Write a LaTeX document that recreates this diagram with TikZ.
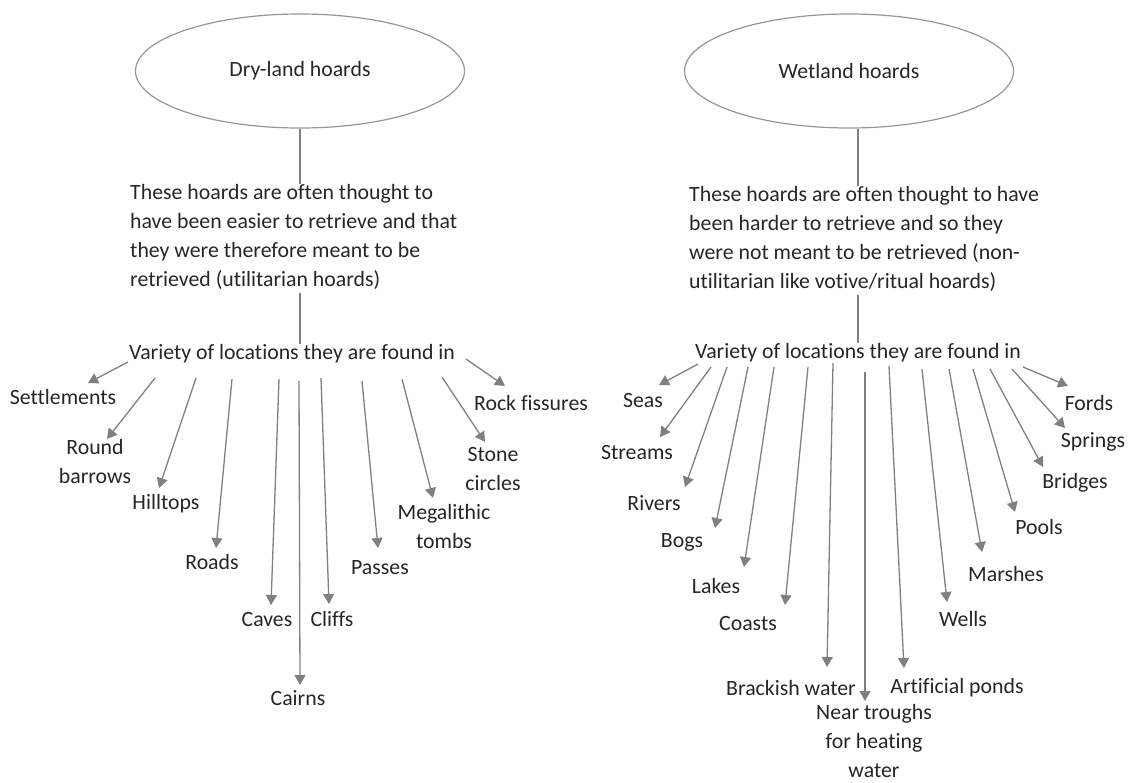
\documentclass[tikz,border=0pt]{standalone}
\usepackage{fontspec}
\setmainfont{Carlito}[Ligatures=NoCommon]
\usepackage{tikz}
\usetikzlibrary{positioning,shapes,arrows.meta}
\definecolor{linegray}{RGB}{128,128,128}
\definecolor{rimgray}{RGB}{150,150,150}
\definecolor{txt}{RGB}{38,38,38}
\tikzstyle{hoard}=[draw=rimgray, ellipse, line width=1.2pt, minimum width=329pt, minimum height=114pt, text=txt]
\tikzstyle{note}=[align=left, inner sep=0pt, text=txt]
\tikzstyle{loc}=[align=center, inner sep=1pt, text=txt]
\tikzstyle{stem}=[draw=linegray, line width=2.6pt]
\tikzstyle{leaf}=[draw=linegray, line width=1.3pt, -{Triangle[length=10pt,width=11pt]}]

\begin{document}
\begin{tikzpicture}[x=1pt,y=-1pt,font=\fontsize{21.8}{29}\selectfont]
\useasboundingbox (0,0) rectangle (1131,782);

% dry-land hoards
\node[hoard] (dry) at (300,71) {Dry-land hoards};
\node[note, anchor=west] (dryinfo) at (130,237) {These hoards are often thought to\\have been easier to retrieve and that\\they were therefore meant to be\\retrieved (utilitarian hoards)};
\node[note] (dvar) at (292,354) {Variety of locations they are found in};
\draw[stem] (dry.south) -- (dry.south |- dryinfo.north);
\draw[stem] (dry.south |- dryinfo.south) ++(0,3) -- (dry.south |- dvar.north);

\node[loc] (settle) at (63,397) {Settlements};
\node[loc] (barrow) at (95,462) {Round\\barrows};
\node[loc] (hill) at (166,504) {Hilltops};
\node[loc] (road) at (212,562) {Roads};
\node[loc] (cave) at (267,619) {Caves};
\node[loc] (cairn) at (298,698) {Cairns};
\node[loc] (cliff) at (332,619) {Cliffs};
\node[loc] (pass) at (380,568) {Passes};
\node[loc] (tomb) at (444,527) {Megalithic\\tombs};
\node[loc] (stone) at (493,469) {Stone\\circles};
\node[loc] (rock) at (531,403) {Rock fissures};

\draw[leaf] ([shift={(-164,8)}]dvar.center) -- ([shift={(25,-14)}]settle.center);
\draw[leaf] ([shift={(-137,24)}]dvar.center) -- ([shift={(12,-23)}]barrow.center);
\draw[leaf] ([shift={(-96,24)}]dvar.center) -- ([shift={(-7,-16)}]hill.center);
\draw[leaf] ([shift={(-60,25)}]dvar.center) -- ([shift={(4,-14)}]road.center);
\draw[leaf] ([shift={(-13,25)}]dvar.center) -- ([shift={(4,-14)}]cave.center);
\draw[leaf] ([shift={(7,27)}]dvar.center) -- ([shift={(2,-13)}]cairn.center);
\draw[leaf] ([shift={(29,24)}]dvar.center) -- ([shift={(-3,-15)}]cliff.center);
\draw[leaf] ([shift={(70,27)}]dvar.center) -- ([shift={(-2,-20)}]pass.center);
\draw[leaf] ([shift={(110,25)}]dvar.center) -- ([shift={(-11,-29)}]tomb.center);
\draw[leaf] ([shift={(150,23)}]dvar.center) -- ([shift={(-8,-27)}]stone.center);
\draw[leaf] ([shift={(174,5)}]dvar.center) -- ([shift={(-26,-17)}]rock.center);

% wetland hoards
\node[hoard] (wet) at (849,71) {Wetland hoards};
\node[note, anchor=west] (wetinfo) at (689,239) {These hoards are often thought to have\\been harder to retrieve and so they\\were not meant to be retrieved (non-\\utilitarian like votive/ritual hoards)};
\node[note] (wvar) at (858,353) {Variety of locations they are found in};
\draw[stem] (wet.south -| wvar.north) -- (wvar.north |- wetinfo.north);
\draw[stem] (wvar.north |- wetinfo.south) ++(0,3) -- (wvar.north);

\node[loc] (seas) at (643,400) {Seas};
\node[loc] (stream) at (637,452) {Streams};
\node[loc] (river) at (654,503) {Rivers};
\node[loc] (bog) at (682,542) {Bogs};
\node[loc] (lake) at (716,586) {Lakes};
\node[loc] (coast) at (748,623) {Coasts};
\node[loc] (brack) at (791,688) {Brackish water};
\node[loc] (trough) at (874,741) {Near troughs\\for heating\\water};
\node[loc] (pond) at (957,688) {Artificial ponds};
\node[loc] (well) at (963,619) {Wells};
\node[loc] (marsh) at (1006,574) {Marshes};
\node[loc] (pool) at (1039,527) {Pools};
\node[loc] (bridge) at (1075,483) {Bridges};
\node[loc] (spring) at (1093,442) {Springs};
\node[loc] (ford) at (1089,403) {Fords};

\draw[leaf] ([shift={(-160,11)}]wvar.center) -- ([shift={(16,-15)}]seas.center);
\draw[leaf] ([shift={(-147,14)}]wvar.center) -- ([shift={(23,-15)}]stream.center);
\draw[leaf] ([shift={(-131,14)}]wvar.center) -- ([shift={(31,-16)}]river.center);
\draw[leaf] ([shift={(-110,14)}]wvar.center) -- ([shift={(33,-14)}]bog.center);
\draw[leaf] ([shift={(-84,14)}]wvar.center) -- ([shift={(28,-19)}]lake.center);
\draw[leaf] ([shift={(-50,14)}]wvar.center) -- ([shift={(37,-18)}]coast.center);
\draw[leaf] ([shift={(-25,10)}]wvar.center) -- ([shift={(36,-21)}]brack.center);
\draw[leaf] ([shift={(7,19)}]wvar.center) -- ([shift={(-9,-40)}]trough.center);
\draw[leaf] ([shift={(31,13)}]wvar.center) -- ([shift={(-53,-20)}]pond.center);
\draw[leaf] ([shift={(64,16)}]wvar.center) -- ([shift={(-16,-17)}]well.center);
\draw[leaf] ([shift={(91,16)}]wvar.center) -- ([shift={(-24,-22)}]marsh.center);
\draw[leaf] ([shift={(115,16)}]wvar.center) -- ([shift={(-24,-15)}]pool.center);
\draw[leaf] ([shift={(132,16)}]wvar.center) -- ([shift={(-32,-16)}]bridge.center);
\draw[leaf] ([shift={(154,16)}]wvar.center) -- ([shift={(-28,-14)}]spring.center);
\draw[leaf] ([shift={(165,14)}]wvar.center) -- ([shift={(-21,-17)}]ford.center);
\end{tikzpicture}
\end{document}
